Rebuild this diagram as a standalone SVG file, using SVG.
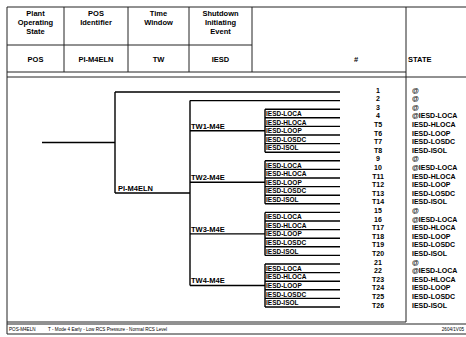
<svg xmlns="http://www.w3.org/2000/svg" width="466" height="337" viewBox="0 0 466 337">
<style>
.frame{stroke:#222;stroke-width:1;fill:none}
.tree{stroke:#000;stroke-width:1.4;fill:none}
.h{font-family:"Liberation Sans",Arial,sans-serif;font-weight:bold;font-size:7.5px;fill:#000;text-anchor:middle}
.lbl{font-family:"Liberation Sans",Arial,sans-serif;font-weight:bold;font-size:7.5px;fill:#000}
.ies{font-family:"Liberation Sans",Arial,sans-serif;font-weight:bold;font-size:6.5px;fill:#000}
.num{font-family:"Liberation Sans",Arial,sans-serif;font-weight:bold;font-size:7px;fill:#000;text-anchor:middle}
.st{font-family:"Liberation Sans",Arial,sans-serif;font-weight:bold;font-size:7px;fill:#000}
.ft{font-family:"Liberation Sans",Arial,sans-serif;font-size:4.6px;fill:#000}
</style>
<rect width="466" height="337" fill="#fff"/>
<g id="header">
<path class="frame" d="M7,7 H466 M7,7 V334 M64,7 V72 M128,7 V72 M189,7 V72 M252,7 V72 M406,7 V322 M7,45 H252 M7,72 H406 M7,77 H406 M406,77 H466 M7,322 H406 M7,324 H466 M7,334 H466"/>
<text class="h" x="35.5" y="16">Plant</text>
<text class="h" x="35.5" y="25">Operating</text>
<text class="h" x="35.5" y="34">State</text>
<text class="h" x="96" y="16">POS</text>
<text class="h" x="96" y="25">Identifier</text>
<text class="h" x="158.5" y="16">Time</text>
<text class="h" x="158.5" y="25">Window</text>
<text class="h" x="220.5" y="16">Shutdown</text>
<text class="h" x="220.5" y="25">Initiating</text>
<text class="h" x="220.5" y="34">Event</text>
<text class="h" x="35.5" y="62">POS</text>
<text class="h" x="96" y="62">PI-M4ELN</text>
<text class="h" x="158.5" y="62">TW</text>
<text class="h" x="220.5" y="62">IESD</text>
<text class="h" x="356" y="62">#</text>
<text class="lbl" x="408" y="62">STATE</text>
</g>
<g id="connectors">
<path class="tree" d="M42,142.5 H115 M115,92 V193 M115,92 H340 M115,193 H190 M190,100.6 V285.5 M190,100.6 H340
M190,130.7 H265 M190,182.3 H265 M190,233.9 H265 M190,285.5 H265
M265,109.2 V152.2 M265,160.8 V203.8 M265,212.4 V255.4 M265,264 V307
M265,109.2 H340 M265,117.8 H340 M265,126.4 H340 M265,135 H340 M265,143.6 H340 M265,152.2 H340
M265,160.8 H340 M265,169.4 H340 M265,178 H340 M265,186.6 H340 M265,195.2 H340 M265,203.8 H340
M265,212.4 H340 M265,221 H340 M265,229.6 H340 M265,238.2 H340 M265,246.8 H340 M265,255.4 H340
M265,264 H340 M265,272.6 H340 M265,281.2 H340 M265,289.8 H340 M265,298.4 H340 M265,307 H340"/>
</g>
<g id="node-pos">
<text class="lbl" x="118" y="190.5">PI-M4ELN</text>
</g>
<g id="node-tw">
<text class="lbl" x="191" y="128.5">TW1-M4E</text>
<text class="lbl" x="191" y="180">TW2-M4E</text>
<text class="lbl" x="191" y="231.5">TW3-M4E</text>
<text class="lbl" x="191" y="283">TW4-M4E</text>
</g>
<g id="node-iesd">
<text class="ies" x="266" y="116">IESD-LOCA</text>
<text class="ies" x="266" y="124.6">IESD-HLOCA</text>
<text class="ies" x="266" y="133.2">IESD-LOOP</text>
<text class="ies" x="266" y="141.8">IESD-LOSDC</text>
<text class="ies" x="266" y="150.4">IESD-ISOL</text>
<text class="ies" x="266" y="167.6">IESD-LOCA</text>
<text class="ies" x="266" y="176.2">IESD-HLOCA</text>
<text class="ies" x="266" y="184.8">IESD-LOOP</text>
<text class="ies" x="266" y="193.4">IESD-LOSDC</text>
<text class="ies" x="266" y="202">IESD-ISOL</text>
<text class="ies" x="266" y="219.2">IESD-LOCA</text>
<text class="ies" x="266" y="227.8">IESD-HLOCA</text>
<text class="ies" x="266" y="236.4">IESD-LOOP</text>
<text class="ies" x="266" y="245">IESD-LOSDC</text>
<text class="ies" x="266" y="253.6">IESD-ISOL</text>
<text class="ies" x="266" y="270.8">IESD-LOCA</text>
<text class="ies" x="266" y="279.4">IESD-HLOCA</text>
<text class="ies" x="266" y="288">IESD-LOOP</text>
<text class="ies" x="266" y="296.6">IESD-LOSDC</text>
<text class="ies" x="266" y="305.2">IESD-ISOL</text>
</g>
<g id="outcomes">
<text class="num" x="378" y="92.5">1</text><text class="st" x="412" y="92.5">@</text>
<text class="num" x="378" y="101.1">2</text><text class="st" x="412" y="101.1">@</text>
<text class="num" x="378" y="109.7">3</text><text class="st" x="412" y="109.7">@</text>
<text class="num" x="378" y="118.3">4</text><text class="st" x="412" y="118.3">@IESD-LOCA</text>
<text class="num" x="378" y="126.9">T5</text><text class="st" x="412" y="126.9">IESD-HLOCA</text>
<text class="num" x="378" y="135.5">T6</text><text class="st" x="412" y="135.5">IESD-LOOP</text>
<text class="num" x="378" y="144.1">T7</text><text class="st" x="412" y="144.1">IESD-LOSDC</text>
<text class="num" x="378" y="152.7">T8</text><text class="st" x="412" y="152.7">IESD-ISOL</text>
<text class="num" x="378" y="161.3">9</text><text class="st" x="412" y="161.3">@</text>
<text class="num" x="378" y="169.9">10</text><text class="st" x="412" y="169.9">@IESD-LOCA</text>
<text class="num" x="378" y="178.5">T11</text><text class="st" x="412" y="178.5">IESD-HLOCA</text>
<text class="num" x="378" y="187.1">T12</text><text class="st" x="412" y="187.1">IESD-LOOP</text>
<text class="num" x="378" y="195.7">T13</text><text class="st" x="412" y="195.7">IESD-LOSDC</text>
<text class="num" x="378" y="204.3">T14</text><text class="st" x="412" y="204.3">IESD-ISOL</text>
<text class="num" x="378" y="212.9">15</text><text class="st" x="412" y="212.9">@</text>
<text class="num" x="378" y="221.5">16</text><text class="st" x="412" y="221.5">@IESD-LOCA</text>
<text class="num" x="378" y="230.1">T17</text><text class="st" x="412" y="230.1">IESD-HLOCA</text>
<text class="num" x="378" y="238.7">T18</text><text class="st" x="412" y="238.7">IESD-LOOP</text>
<text class="num" x="378" y="247.3">T19</text><text class="st" x="412" y="247.3">IESD-LOSDC</text>
<text class="num" x="378" y="255.9">T20</text><text class="st" x="412" y="255.9">IESD-ISOL</text>
<text class="num" x="378" y="264.5">21</text><text class="st" x="412" y="264.5">@</text>
<text class="num" x="378" y="273.1">22</text><text class="st" x="412" y="273.1">@IESD-LOCA</text>
<text class="num" x="378" y="281.7">T23</text><text class="st" x="412" y="281.7">IESD-HLOCA</text>
<text class="num" x="378" y="290.3">T24</text><text class="st" x="412" y="290.3">IESD-LOOP</text>
<text class="num" x="378" y="298.9">T25</text><text class="st" x="412" y="298.9">IESD-LOSDC</text>
<text class="num" x="378" y="307.5">T26</text><text class="st" x="412" y="307.5">IESD-ISOL</text>
</g>
<g id="footer">
<text class="ft" x="9" y="330.5">POS-M4ELN</text>
<text class="ft" x="48" y="330.5">T - Mode 4 Early - Low RCS Pressure - Normal RCS Level</text>
<text class="ft" x="464" y="330.5" text-anchor="end">2604/1V05</text>
</g>
</svg>
